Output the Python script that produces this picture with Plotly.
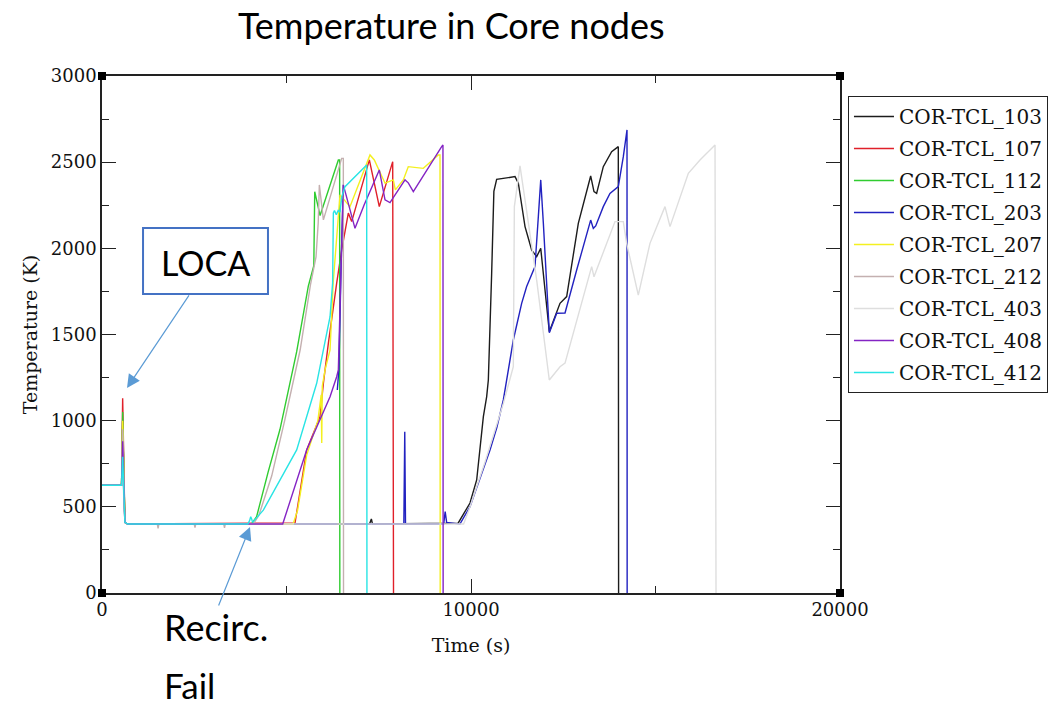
import plotly.graph_objects as go

# Core cladding temperatures (time in s, temperature in K)
t_103 = [0, 530, 560, 620, 700, 7250, 7300, 7330, 9650, 9973, 10154, 10335, 10425, 10470, 10560, 10620, 10695,
         10876, 11193, 11283, 11464, 11645, 11780, 11890, 12122, 12412, 12593, 12908, 13243, 13333, 13405, 13585,
         13811, 13992, 14000]
T_103 = [625, 625, 1000, 410, 400, 400, 430, 400, 405, 522, 656, 1023, 1140, 1236, 1855, 2330, 2400,
         2406, 2416, 2378, 2126, 1990, 1952, 2000, 1516, 1681, 1720, 2145, 2420, 2329, 2319, 2474,
         2561, 2590, 0]

t_107 = [0, 530, 560, 620, 700, 5230, 5547, 5908, 6000, 6135, 6360, 6495, 6675, 6766, 7245, 7515, 7878, 7900]
T_107 = [625, 625, 1130, 410, 400, 406, 830, 1023, 1218, 1450, 1798, 1990, 2205, 2155, 2513, 2242, 2503, 0]

t_112 = [0, 530, 560, 620, 700, 4050, 4190, 4500, 4824, 5276, 5591, 5740, 5765, 5850, 5910, 6405, 6440, 6445]
T_112 = [625, 625, 1050, 410, 400, 400, 443, 700, 950, 1400, 1780, 1900, 2329, 2250, 2190, 2513, 2513, 0]

t_203 = [0, 530, 560, 620, 700, 6370, None, 6377, 6420, 6480, 6540, None, 6560, 8180, 8205, 8225, 9260, 9300,
         9340, 9700, 9973, 10380, 10515, 10700, 10876, 11147, 11373, 11508, 11734, 11825, 11890, 11961, 12123,
         12323, 12548, 12864, 13243, 13315, 13380, 13585, 13766, 13992, 14128, 14228, 14232]
T_203 = [625, 625, 760, 410, 400, 400, None, 1178, 1300, 1900, 2370, None, 400, 400, 936, 400, 400, 472,
         410, 400, 501, 753, 830, 960, 1120, 1468, 1681, 1778, 1894, 2184, 2397, 2145, 1510,
         1623, 1625, 1874, 2164, 2116, 2130, 2242, 2319, 2358, 2532, 2687, 0]

t_207 = [0, 530, 560, 620, 700, 5180, 5300, 5547, 5850, 5940, 5955, 5970, 6050, 6180, 6265, 6330, 6380, 6450,
         6720, 7000, 7263, 7380, 7670, 7895, 7950, 8165, 8300, 8707, 8978, 9114, 9160, 9165]
T_207 = [625, 625, 1000, 410, 400, 400, 480, 800, 1000, 1150, 870, 1200, 1300, 1410, 1800, 2000, 2150, 2310,
         2242, 2400, 2542, 2513, 2378, 2397, 2339, 2397, 2474, 2464, 2513, 2542, 2542, 0]

t_212 = [0, 530, 560, 620, 700, 1500, 1520, 1540, 2500, 2520, 2540, 3300, 3320, 3340, 4100, 4250, 4600, 4950,
         5370, 5650, 5800, 5860, 5890, 6000, 6495, 6540, 6545]
T_212 = [625, 625, 950, 410, 400, 400, 375, 400, 400, 380, 400, 400, 378, 400, 400, 450, 680, 1000,
         1410, 1790, 1950, 2150, 2368, 2165, 2522, 2522, 0]

t_403 = [0, 530, 560, 620, 700, 9800, 9973, 10380, 10876, 11147, 11175, 11328, 11464, 11780, 12122, 12412,
         12548, 13270, 13333, 13902, 14128, 14218, 14534, 14850, 15257, 15393, 15890, 16206, 16613, 16640]
T_403 = [625, 625, 700, 410, 400, 400, 500, 760, 1100, 1313, 2242, 2478, 2281, 1816, 1236, 1313,
         1334, 1894, 1835, 2155, 2155, 2029, 1729, 2029, 2242, 2126, 2435, 2513, 2600, 0]

t_408 = [0, 530, 560, 620, 700, 4897, 5546, 5908, 6180, 6360, 6405, 6480, 6540, 6856, 7100, 7515, 7670, 7805,
         8211, 8300, 8437, 9205, 9240, 9245]
T_408 = [625, 625, 880, 410, 400, 400, 830, 1004, 1139, 1255, 1294, 1900, 2368, 2116, 2250, 2455, 2281, 2265,
         2397, 2380, 2329, 2590, 2600, 0]

t_412 = [0, 530, 560, 620, 700, 3950, 4000, 4030, 4056, 4080, 4372, 5276, 5818, 6180, 6250, 6270, 6300, 6350,
         6400, 6450, 6500, 6585, 7173, 7180]
T_412 = [625, 625, 790, 410, 400, 400, 420, 443, 430, 410, 481, 830, 1217, 1603, 1800, 2205, 2220, 2195,
         2220, 2210, 2300, 2358, 2484, 0]

series_names = ["COR-TCL_103", "COR-TCL_107", "COR-TCL_112", "COR-TCL_203", "COR-TCL_207",
                "COR-TCL_212", "COR-TCL_403", "COR-TCL_408", "COR-TCL_412"]
series_t = [t_103, t_107, t_112, t_203, t_207, t_212, t_403, t_408, t_412]
series_T = [T_103, T_107, T_112, T_203, T_207, T_212, T_403, T_408, T_412]
series_colors = ["#1c1c1c", "#e0202a", "#30cc30", "#2222c0", "#f4f020",
                 "#c4b0b0", "#dedede", "#8424c4", "#28e4e4"]

x_ticks = [0, 10000, 20000]
x_tick_labels = ["0", "10000", "20000"]
y_ticks = [0, 500, 1000, 1500, 2000, 2500, 3000]
y_tick_labels = ["0", "500", "1000", "1500", "2000", "2500", "3000"]

fig = go.Figure()
for name, tx, ty, col in zip(series_names, series_t, series_T, series_colors):
    fig.add_trace(go.Scatter(x=tx, y=ty, mode="lines", name=name, legendgroup=name,
                             line=dict(color=col, width=1.4), connectgaps=False))

tick_font = dict(family="DejaVu Serif", size=18, color="#111111")
title_font = dict(family="DejaVu Serif", size=19, color="#111111")
fig.update_layout(
    width=1053, height=710,
    margin=dict(l=102, r=213, t=76, b=117, autoexpand=False),
    paper_bgcolor="white", plot_bgcolor="white",
    showlegend=True,
    legend=dict(x=1.0108, y=0.9613, xanchor="left", yanchor="top",
                bgcolor="white", bordercolor="#222222", borderwidth=1,
                font=dict(family="DejaVu Serif", size=20, color="#111111"),
                tracegroupgap=3, itemwidth=40),
    xaxis=dict(range=[0, 20000], tickvals=x_ticks, ticktext=x_tick_labels, ticks="inside", ticklen=14,
               tickwidth=1.2, tickcolor="#222222", showline=True, linecolor="#222222", linewidth=1.5,
               mirror="ticks", showgrid=False, zeroline=False, tickfont=tick_font,
               minor=dict(dtick=5000, ticks="inside", ticklen=7, tickcolor="#222222"),
               title=dict(text="Time (s)", font=title_font, standoff=19)),
    yaxis=dict(range=[0, 3000], tickvals=y_ticks, ticktext=y_tick_labels, ticks="inside", ticklen=14,
               tickwidth=1.2, tickcolor="#222222", showline=True, linecolor="#222222", linewidth=1.5,
               mirror="ticks", showgrid=False, zeroline=False, tickfont=tick_font,
               minor=dict(dtick=250, ticks="inside", ticklen=7, tickcolor="#222222"),
               title=dict(text="Temperature (K)", font=title_font, standoff=8)),
)

# black square markers on the frame corners
for cx in (0, 1):
    for cy in (0, 1):
        fig.add_shape(type="rect", xref="paper", yref="paper", xsizemode="pixel", ysizemode="pixel",
                      xanchor=cx, yanchor=cy, x0=-4, x1=4, y0=-4, y1=4,
                      fillcolor="black", line=dict(width=0))

# LOCA callout box
fig.add_shape(type="rect", xref="paper", yref="paper", x0=0.0556, x1=0.2249, y0=0.5783, y1=0.706,
              line=dict(color="#4472C4", width=2), fillcolor="white")

fig.add_annotation(text="Temperature in Core nodes", xref="paper", yref="paper", x=0.474, y=1.0987,
                   xanchor="center", yanchor="middle", showarrow=False,
                   font=dict(family="Lato", size=36, color="black"))
fig.add_annotation(text="LOCA", xref="paper", yref="paper", x=0.1409, y=0.6402,
                   xanchor="center", yanchor="middle", showarrow=False,
                   font=dict(family="Lato", size=34, color="black"))
fig.add_annotation(text="Recirc.", xref="paper", yref="paper", x=0.0813, y=-0.0658,
                   xanchor="left", yanchor="middle", showarrow=False,
                   font=dict(family="Lato", size=36, color="black"))
fig.add_annotation(text="Fail", xref="paper", yref="paper", x=0.0813, y=-0.178,
                   xanchor="left", yanchor="middle", showarrow=False,
                   font=dict(family="Lato", size=35, color="black"))

# callout arrows
fig.add_annotation(x=677, y=1190, xref="x", yref="y", ax=63, ay=-94, text="", showarrow=True,
                   arrowhead=2, arrowsize=2.2, arrowwidth=1.2, arrowcolor="#5B9BD5")
fig.add_annotation(x=4011, y=383, xref="x", yref="y", ax=-32, ay=80, text="", showarrow=True,
                   arrowhead=2, arrowsize=2.2, arrowwidth=1.2, arrowcolor="#5B9BD5")

fig.write_html("out.html")
